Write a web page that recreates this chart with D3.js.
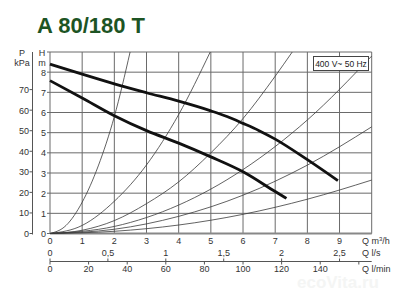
<!DOCTYPE html>
<html lang="en">
    <head>
        <meta charset="utf-8">
        <title>A 80/180 T</title>
        <script type="text/javascript" src="https://d3js.org/d3.v7.min.js"></script>
        <style type="text/css">
            body { margin: 0; background: #fff; }
            text { font-family: "Liberation Sans", Arial, sans-serif; fill: #333; }
        </style>
    </head>
    <body>
        <div id="chart"></div>
        <script type="text/javascript">
            // values
            const qTicks = [0, 1, 2, 3, 4, 5, 6, 7, 8, 9];
            const hTicks = [0, 1, 2, 3, 4, 5, 6, 7, 8];
            const kpaTicks = [0, 10, 20, 30, 40, 50, 60, 70];
            const lsTicks = [0, 0.5, 1, 1.5, 2, 2.5];
            const lminTicks = [0, 20, 40, 60, 80, 100, 120, 140, 160];
            const lminLabels = ["0", "20", "40", "60", "80", "100", "120", "140", ""];

            // pump curves, Q m3/h vs H m
            const pumpHigh = [[0, 8.4], [1, 7.9], [2, 7.42], [3, 6.98], [4, 6.56], [5, 6.08], [5.5, 5.8], [6, 5.46], [6.5, 5.1], [7, 4.68], [8, 3.66], [8.95, 2.62]];
            const pumpLow = [[0, 7.58], [1, 6.72], [2, 5.84], [3, 5.1], [4, 4.48], [5, 3.8], [6, 3.06], [7, 2.08], [7.35, 1.74]];

            // thin system curves
            const sysA = [[0, 0], [0.5, 0.4], [1, 1.55], [1.5, 3.35], [2, 5.8], [2.49, 9]];
            const sysB = [[0, 0], [1, 0.4], [2, 1.6], [3, 3.4], [4, 5.9], [4.98, 9]];
            const sysC = [[0, 0], [1, 0.16], [2, 0.64], [3, 1.48], [4, 2.56], [5, 4], [6, 5.7], [7, 7.8], [7.53, 9]];
            const sysD = [[0, 0], [2, 0.35], [4, 1.41], [6, 3.17], [8, 5.63], [10, 8.8]];
            const sysE = [[0, 0], [2, 0.21], [4, 0.85], [6, 1.9], [8, 3.39], [10, 5.29]];
            const sysF = [[0, 0], [2, 0.11], [4, 0.42], [6, 0.95], [8, 1.7], [10, 2.65]];
            const systemCurves = [sysA, sysB, sysC, sysD, sysE, sysF];

            const width = 400, height = 293;
            const plotL = 50, plotR = 371.7, plotT = 52, plotB = 233.5;

            const xScale = d3.scaleLinear().domain([0, 10]).range([plotL, plotR]);
            const yScale = d3.scaleLinear().domain([0, 9]).range([plotB, plotT]);
            const kpaScale = d3.scaleLinear().domain([0, 9 * 9.81]).range([plotB, plotT]);
            const lsScale = d3.scaleLinear().domain([0, 10 / 3.6]).range([plotL, plotR]);
            const lminScale = d3.scaleLinear().domain([0, 1000 / 6]).range([plotL, plotR]);

            const svg = d3.select("#chart")
                .append("svg")
                .attr("width", width)
                .attr("height", height);

            // faint watermark
            svg.append("text")
                .attr("x", 338).attr("y", 288)
                .attr("text-anchor", "middle")
                .style("font-size", "17px")
                .style("font-weight", "bold")
                .style("fill", "#f4f5f4")
                .text("ecoVita.ru");

            // title
            svg.append("text")
                .attr("x", 37).attr("y", 33)
                .style("font-size", "22px")
                .style("font-weight", "bold")
                .style("fill", "#1d5424")
                .text("A 80/180 T");

            // grid
            const grid = svg.append("g");
            grid.selectAll(".vgrid")
                .data(d3.range(0, 11))
                .enter().append("line")
                .attr("x1", d => xScale(d)).attr("x2", d => xScale(d))
                .attr("y1", plotT).attr("y2", plotB)
                .style("stroke", "#6a6a6a").style("stroke-width", 1);
            grid.selectAll(".hgrid")
                .data(d3.range(0, 10))
                .enter().append("line")
                .attr("x1", plotL - 3).attr("x2", plotR)
                .attr("y1", d => yScale(d)).attr("y2", d => yScale(d))
                .style("stroke", "#6a6a6a").style("stroke-width", 1);
            grid.append("line")
                .attr("x1", plotL).attr("x2", plotR)
                .attr("y1", plotB).attr("y2", plotB)
                .style("stroke", "#888").style("stroke-width", 2);

            const line = d3.line()
                .x(d => xScale(d[0]))
                .y(d => yScale(d[1]))
                .curve(d3.curveMonotoneX);

            svg.append("g").selectAll("path")
                .data(systemCurves)
                .enter().append("path")
                .attr("d", line)
                .style("fill", "none")
                .style("stroke", "#3a3a3a")
                .style("stroke-width", 0.8);

            svg.append("g").selectAll("path")
                .data([pumpHigh, pumpLow])
                .enter().append("path")
                .attr("d", line)
                .style("fill", "none")
                .style("stroke", "#111")
                .style("stroke-width", 2.8);

            // H axis labels
            svg.append("g").selectAll("text")
                .data(hTicks)
                .enter().append("text")
                .attr("x", 46).attr("y", d => yScale(d) + 3.5)
                .attr("text-anchor", "end")
                .style("font-size", "9px")
                .text(d => d);
            svg.append("text").attr("x", 42).attr("y", 56).attr("text-anchor", "middle").style("font-size", "9px").text("H");
            svg.append("text").attr("x", 42).attr("y", 66).attr("text-anchor", "middle").style("font-size", "9px").text("m");

            // kPa axis
            const kpa = svg.append("g");
            kpa.append("line")
                .attr("x1", 32.5).attr("x2", 32.5)
                .attr("y1", plotT).attr("y2", plotB + 1)
                .style("stroke", "#555").style("stroke-width", 1);
            kpa.selectAll(".tick")
                .data(kpaTicks)
                .enter().append("line")
                .attr("x1", 29.5).attr("x2", 32.5)
                .attr("y1", d => kpaScale(d)).attr("y2", d => kpaScale(d))
                .style("stroke", "#555");
            kpa.selectAll("text")
                .data(kpaTicks)
                .enter().append("text")
                .attr("x", 29).attr("y", d => kpaScale(d) + 3.5)
                .attr("text-anchor", "end")
                .style("font-size", "9px")
                .text(d => d);
            svg.append("text").attr("x", 22).attr("y", 56).attr("text-anchor", "middle").style("font-size", "9px").text("P");
            svg.append("text").attr("x", 22).attr("y", 66).attr("text-anchor", "middle").style("font-size", "9px").text("kPa");

            // Q m3/h labels
            svg.append("g").selectAll("text")
                .data(qTicks)
                .enter().append("text")
                .attr("x", d => xScale(d)).attr("y", 244)
                .attr("text-anchor", "middle")
                .style("font-size", "9px")
                .text(d => d);
            const qm = svg.append("text").attr("x", 362).attr("y", 244).style("font-size", "9px");
            qm.append("tspan").text("Q m");
            qm.append("tspan").attr("dy", -3).style("font-size", "6px").text("3");
            qm.append("tspan").attr("dy", 3).text("/h");

            // l/s and l/min axis
            const lineY = 261.5;
            const flow = svg.append("g");
            flow.append("line")
                .attr("x1", plotL).attr("x2", plotR)
                .attr("y1", lineY).attr("y2", lineY)
                .style("stroke", "#555").style("stroke-width", 1);
            flow.selectAll(".ls")
                .data(lsTicks)
                .enter().append("line")
                .attr("x1", d => lsScale(d)).attr("x2", d => lsScale(d))
                .attr("y1", lineY - 3).attr("y2", lineY)
                .style("stroke", "#555");
            flow.selectAll(".lmin")
                .data(lminTicks)
                .enter().append("line")
                .attr("x1", d => lminScale(d)).attr("x2", d => lminScale(d))
                .attr("y1", lineY).attr("y2", lineY + 3)
                .style("stroke", "#555");
            flow.selectAll(".lslab")
                .data(lsTicks)
                .enter().append("text")
                .attr("x", d => lsScale(d)).attr("y", 256)
                .attr("text-anchor", "middle")
                .style("font-size", "9px")
                .text(d => String(d).replace(".", ","));
            flow.selectAll(".lminlab")
                .data(lminTicks)
                .enter().append("text")
                .attr("x", d => lminScale(d)).attr("y", 272)
                .attr("text-anchor", "middle")
                .style("font-size", "9px")
                .text((d, i) => lminLabels[i]);
            svg.append("text").attr("x", 362).attr("y", 256).style("font-size", "9px").text("Q l/s");
            svg.append("text").attr("x", 362).attr("y", 272).style("font-size", "9px").text("Q l/min");

            // voltage box
            svg.append("rect")
                .attr("x", 313.5).attr("y", 56.5)
                .attr("width", 55).attr("height", 14)
                .style("fill", "#fff").style("stroke", "#444");
            svg.append("text")
                .attr("x", 341).attr("y", 66.5)
                .attr("text-anchor", "middle")
                .style("font-size", "8.5px")
                .style("fill", "#222")
                .text("400 V~ 50 Hz");
        </script>
    </body>
</html>
